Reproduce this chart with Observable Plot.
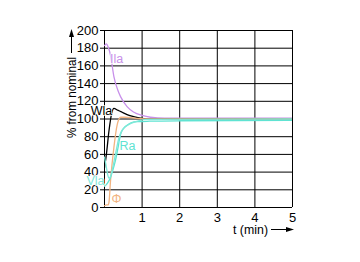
<!DOCTYPE html>
<html><head><meta charset="utf-8">
<script src="https://cdn.jsdelivr.net/npm/d3@7"></script>
<script src="https://cdn.jsdelivr.net/npm/@observablehq/plot@0.6"></script>
<style>
body{margin:0;background:#fff;}
#chart{position:relative;width:360px;height:262px;}
svg{font-family:"Liberation Sans",Arial,sans-serif;}
</style></head><body><div id="chart"></div>
<script>
const xTicks = [1, 2, 3, 4, 5];
const yTicks = [0, 20, 40, 60, 80, 100, 120, 140, 160, 180, 200];
const ilaT = [0, 0.05, 0.1, 0.16, 0.25, 0.35, 0.43, 0.6, 0.77, 1.0, 1.22, 1.6, 2, 5];
const ilaV = [183, 185, 181, 172, 148, 133, 125, 114, 108, 104, 102, 101, 101, 101];
const wlaT = [0, 0.05, 0.12, 0.2, 0.25, 0.35, 0.45, 0.6, 0.8, 0.96, 1.2, 1.6, 5];
const wlaV = [45, 60, 87, 108, 112, 110, 108, 105, 102.5, 101, 100, 100, 100];
const phiT = [0, 0.06, 0.1, 0.12, 0.16, 0.25, 0.34, 0.43, 0.55, 0.8, 1.2, 5];
const phiV = [2, 3, 3, 6, 30, 68, 94, 102, 102, 101, 100, 100];
const raT = [0, 0.05, 0.1, 0.16, 0.22, 0.29, 0.37, 0.43, 0.5, 0.6, 0.72, 0.9, 1.2, 2, 5];
const raV = [24, 26, 29, 34, 42, 53, 70, 83, 89, 93, 96, 97, 97.5, 98, 98.5];
const vlaT = [0, 0.04, 0.08, 0.12, 0.16, 0.22, 0.3, 0.38, 0.45, 0.55, 0.7, 0.9, 1.2, 5];
const vlaV = [57, 48, 38, 33, 35, 45, 62, 78, 86, 91, 95, 98, 99.5, 100];

const mk = (t, v) => t.map((x, i) => ({t: x, v: v[i]}));
const series = [
  {name: "Ila", data: mk(ilaT, ilaV), color: "#c890ea"},
  {name: "Wla", data: mk(wlaT, wlaV), color: "#000000"},
  {name: "Φ", data: mk(phiT, phiV), color: "#f2b482"},
  {name: "Ra", data: mk(raT, raV), color: "#5fe3d2"},
  {name: "Vla", data: mk(vlaT, vlaV), color: "#7fe8d8"}
];
const labels = [
  {t: 0.32, v: 168, text: "Ila", color: "#c890ea"},
  {t: -0.08, v: 109, text: "Wla", color: "#000"},
  {t: 0.61, v: 69, text: "Ra", color: "#5fe3d2"},
  {t: -0.24, v: 30, text: "Vla", color: "#7fe8d8"},
  {t: 0.32, v: 10, text: "Φ", color: "#f2b482"}
];

const plot = Plot.plot({
  width: 360, height: 262,
  marginLeft: 104, marginRight: 68, marginTop: 30, marginBottom: 55,
  style: {fontSize: "13px", fontFamily: "Liberation Sans, Arial, sans-serif", color: "#000", background: "#fff"},
  x: {domain: [0, 5], label: null},
  y: {domain: [0, 200], label: null},
  marks: [
    Plot.ruleY(yTicks, {stroke: "#000", strokeWidth: 1}),
    Plot.ruleX([0, ...xTicks], {stroke: "#000", strokeWidth: 1}),
    ...series.map(s => Plot.line(s.data, {x: "t", y: "v", stroke: s.color, strokeWidth: 1.3, curve: "monotone-x", clip: true})),
    Plot.axisX({ticks: xTicks, tickSize: 0, tickPadding: 5, fontSize: 13, tickFormat: d3.format("d"), label: null}),
    Plot.axisY({ticks: yTicks, tickSize: 4, tickPadding: 2, fontSize: 13, tickFormat: d3.format("d"), label: null}),
    Plot.text(labels, {x: "t", y: "v", text: "text", fill: "color", textAnchor: "middle", fontSize: 12.5, stroke: "#fff", strokeWidth: 1.5, paintOrder: "stroke", clip: false})
  ]
});
document.getElementById("chart").appendChild(plot);

// axis titles with arrows
const svg = d3.select(plot);
svg.append("text").attr("x", 268).attr("y", 234).attr("text-anchor", "end").attr("font-size", 12)
  .attr("textLength", 35).attr("lengthAdjust", "spacingAndGlyphs").text("t (min)");
svg.append("line").attr("x1", 271).attr("x2", 288).attr("y1", 229.5).attr("y2", 229.5).attr("stroke", "#000").attr("stroke-width", 1);
svg.append("path").attr("d", "M294,229.5 L286,227 L286,232 Z").attr("fill", "#000");
svg.append("text").attr("transform", "translate(76,138) rotate(-90)").attr("text-anchor", "start").attr("font-size", 13)
  .attr("textLength", 81).attr("lengthAdjust", "spacingAndGlyphs").text("% from nominal");
svg.append("line").attr("x1", 71.5).attr("x2", 71.5).attr("y1", 53).attr("y2", 36).attr("stroke", "#000").attr("stroke-width", 1);
svg.append("path").attr("d", "M71.5,29 L69,37 L74,37 Z").attr("fill", "#000");
</script></body></html>
